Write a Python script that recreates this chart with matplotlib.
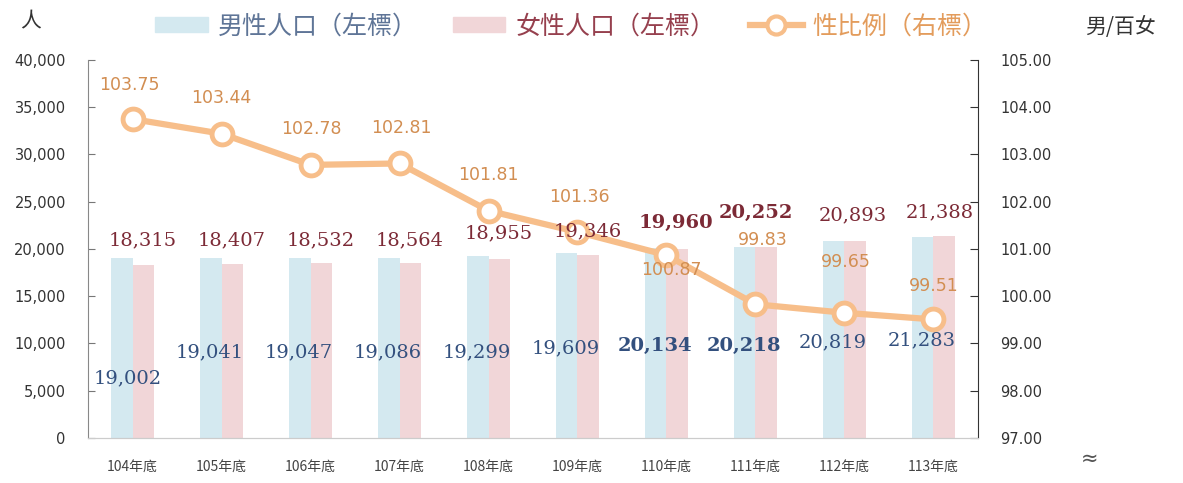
import numpy as np
import matplotlib.pyplot as plt
from matplotlib.patches import Patch
from matplotlib.lines import Line2D
from matplotlib.ticker import FuncFormatter, MultipleLocator

plt.rcParams['font.family'] = ['DejaVu Sans', 'Noto Sans CJK TC']

#### Data ####
years = ['104年底', '105年底', '106年底', '107年底', '108年底',
         '109年底', '110年底', '111年底', '112年底', '113年底']
male = [19002, 19041, 19047, 19086, 19299, 19609, 20134, 20218, 20819, 21283]
female = [18315, 18407, 18532, 18564, 18955, 19346, 19960, 20252, 20893, 21388]
ratio = [103.75, 103.44, 102.78, 102.81, 101.81, 101.36, 100.87, 99.83, 99.65, 99.51]
bold_label = [False, False, False, False, False, False, True, True, False, False]

#### Label placement (data units) ####
male_lab_dx = [-0.05] + [-0.13] * 9
male_lab_y = [6350, 9100, 9100, 9100, 9100, 9500, 9750, 9750, 10150, 10370]
female_lab_dx = [0.11, 0.11, 0.11, 0.11, 0.11, 0.11, 0.11, 0.0, 0.09, 0.07]
female_lab_y = [20950, 20950, 20950, 20950, 21700, 21900, 22750, 23800, 23600, 23900]
ratio_lab_dx = [-0.03, 0.0, 0.01, 0.02, 0.0, 0.02, 0.05, 0.08, 0.02, 0.0]
ratio_lab_y = [104.47, 104.20, 103.54, 103.56, 102.57, 102.10, 100.56, 101.19, 100.72, 100.22]

#### Colours ####
c_male = '#d4e9f0'
c_female = '#f1d6d8'
c_line = '#f7be8a'
c_male_txt = '#33507e'
c_female_txt = '#7c2a36'
c_ratio_txt = '#d28e52'

fig = plt.figure(figsize=(11.83, 4.83), dpi=100)
ax = fig.add_axes([0.0744, 0.0932, 0.7523, 0.7826])
ax2 = ax.twinx()

x = np.arange(len(years))
w = 0.24

#### Bars ####
ax.bar(x - w / 2, male, width=w, color=c_male, zorder=2)
ax.bar(x + w / 2, female, width=w, color=c_female, zorder=2)

ax.set_xlim(-0.5, len(years) - 0.5)
ax.set_ylim(0, 40000)
ax.yaxis.set_major_locator(MultipleLocator(5000))
ax.yaxis.set_major_formatter(FuncFormatter(lambda v, p: f'{int(v):,}'))
ax.set_xticks(x)
ax.set_xticklabels(years, fontsize=10, color='#444444', family=['Noto Sans CJK TC'])
ax.tick_params(axis='x', length=0, pad=16)
ax.tick_params(axis='y', direction='in', length=5, labelsize=10.5, labelcolor='#333333',
               color='#777777', pad=16)

#### Sex ratio line ####
ax2.plot(x, ratio, color=c_line, lw=4.5, marker='o', markersize=15,
         markerfacecolor='white', markeredgecolor=c_line, markeredgewidth=3.5, zorder=4)
for i in range(len(years)):
    ax2.text(x[i] + ratio_lab_dx[i], ratio_lab_y[i], f'{ratio[i]:.2f}', ha='center', va='center',
             fontsize=12.5, color=c_ratio_txt, zorder=6)
ax2.set_ylim(97, 105)
ax2.yaxis.set_major_locator(MultipleLocator(1))
ax2.yaxis.set_major_formatter(FuncFormatter(lambda v, p: f'{v:.2f}'))
ax2.tick_params(axis='y', direction='in', length=6, labelsize=10.5, labelcolor='#333333',
                color='#333333', pad=16)
ax2.set_zorder(ax.get_zorder() + 1)
ax2.patch.set_visible(False)

#### Bar value labels (drawn above the line, in left-axis units) ####
serif = ['DejaVu Serif']
for i in range(len(years)):
    fw = 'bold' if bold_label[i] else 'normal'
    ax2.text(x[i] + male_lab_dx[i], male_lab_y[i], f'{male[i]:,}', ha='center', va='center',
             fontsize=14, color=c_male_txt, family=serif, fontweight=fw, zorder=7,
             transform=ax.transData)
    ax2.text(x[i] + female_lab_dx[i], female_lab_y[i], f'{female[i]:,}', ha='center', va='center',
             fontsize=14, color=c_female_txt, family=serif, fontweight=fw, zorder=7,
             transform=ax.transData)

#### Spines ####
for a in (ax, ax2):
    a.spines['top'].set_visible(False)
    a.spines['left'].set_color('#888888')
    a.spines['right'].set_color('#333333')
    a.spines['bottom'].set_color('#cccccc')
ax2.spines['left'].set_visible(False)
ax.spines['right'].set_visible(False)

#### Legend & unit labels ####
handles = [Patch(color=c_male), Patch(color=c_female),
           Line2D([0], [0], color=c_line, lw=4.5, marker='o', markersize=13,
                  markerfacecolor='white', markeredgecolor=c_line, markeredgewidth=3)]
labels = ['男性人口（左標）', '女性人口（左標）', '性比例（右標）']
fig.legend(handles, labels, loc='center', bbox_to_anchor=(0.483, 0.945), ncol=3,
           frameon=False, handlelength=2.1, handleheight=0.55,
           columnspacing=1.4, handletextpad=0.4,
           labelcolor=['#5f7597', '#96404e', '#e39c5c'],
           prop={'family': ['Noto Sans CJK TC'], 'size': 18})

fig.text(0.017, 0.955, '人', fontsize=15, color='#333333', family=['Noto Sans CJK TC'],
         ha='left', va='center')
fig.text(0.947, 0.945, '男/百女', fontsize=15, color='#333333', family=['Noto Sans CJK TC'],
         ha='center', va='center')
fig.text(0.921, 0.05, '≈', fontsize=15, color='#555555', ha='center', va='center')

fig.savefig('out.png', dpi=100)
